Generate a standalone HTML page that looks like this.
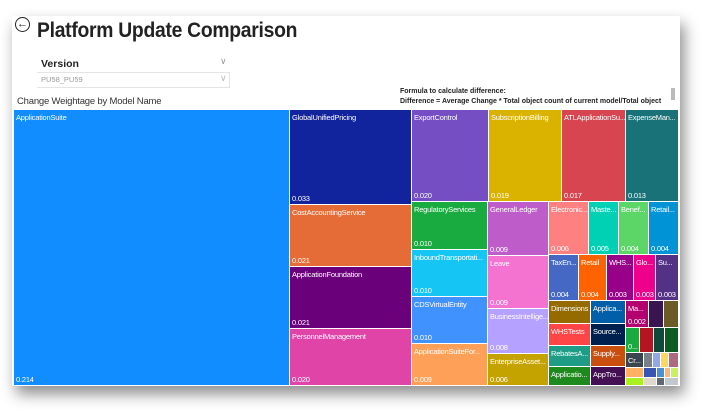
<!DOCTYPE html><html><head><style>
body{margin:0;width:710px;height:417px;background:#fff;position:relative;overflow:hidden;font-family:"Liberation Sans",sans-serif}
.card{position:absolute;left:12px;top:16px;width:668px;height:370px;background:#fff;box-shadow:4px 8px 14px rgba(0,0,0,.45)}
.t{position:absolute;box-sizing:border-box;border:1px solid #fff;color:#fff;font-size:7.5px;overflow:hidden;white-space:nowrap;letter-spacing:-.2px}
.t .n{position:absolute;left:2px;top:3px}
.t .v{position:absolute;left:2px;bottom:1px}
.a{position:absolute}
</style></head><body>
<div class="card"></div>
<div class="a" style="left:15px;top:17px;width:13px;height:13px;border:1.5px solid #222;border-radius:50%;font-size:11px;line-height:12px;text-align:center;color:#222">&#8592;</div>
<div class="a" style="left:37px;top:19px;font-size:21px;font-weight:bold;color:#222;letter-spacing:-.3px;transform:scaleX(0.92);transform-origin:left top">Platform Update Comparison</div>
<div class="a" style="left:41px;top:58px;font-size:10.5px;font-weight:bold;color:#222">Version</div>
<div class="a" style="left:220px;top:56px;font-size:9px;color:#999">&#8744;</div>
<div class="a" style="left:37px;top:72px;width:192px;height:14px;border:1px solid #e4e4e4;border-left:none"></div>
<div class="a" style="left:41px;top:75px;font-size:7.5px;color:#999">PU58_PU59</div>
<div class="a" style="left:220px;top:73px;font-size:9px;color:#bbb">&#8744;</div>
<div class="a" style="left:17px;top:96px;font-size:9.5px;color:#333;letter-spacing:-.2px">Change Weightage by Model Name</div>
<div class="a" style="left:400px;top:88px;font-size:7px;font-weight:bold;color:#222">Formula to calculate difference:</div>
<div class="a" style="left:400px;top:98px;font-size:7px;font-weight:bold;color:#222">Difference = Average Change * Total object count of current model/Total object</div>
<div class="a" style="left:671px;top:88px;width:4px;height:12px;background:#bbb"></div>

<div class="t" style="left:13px;top:109px;width:277px;height:277px;background:#118DFF"><span class="n">ApplicationSuite</span><span class="v">0.214</span></div>
<div class="t" style="left:289px;top:109px;width:123px;height:96px;background:#12239E"><span class="n">GlobalUnifiedPricing</span><span class="v">0.033</span></div>
<div class="t" style="left:289px;top:204px;width:123px;height:63px;background:#E66C37"><span class="n">CostAccountingService</span><span class="v">0.021</span></div>
<div class="t" style="left:289px;top:266px;width:123px;height:63px;background:#6B007B"><span class="n">ApplicationFoundation</span><span class="v">0.021</span></div>
<div class="t" style="left:289px;top:328px;width:123px;height:58px;background:#E044A7"><span class="n">PersonnelManagement</span><span class="v">0.020</span></div>
<div class="t" style="left:411px;top:109px;width:78px;height:93px;background:#744EC2"><span class="n">ExportControl</span><span class="v">0.020</span></div>
<div class="t" style="left:488px;top:109px;width:74px;height:93px;background:#D9B300"><span class="n">SubscriptionBilling</span><span class="v">0.019</span></div>
<div class="t" style="left:561px;top:109px;width:65px;height:93px;background:#D64550"><span class="n">ATLApplicationSu...</span><span class="v">0.017</span></div>
<div class="t" style="left:625px;top:109px;width:54px;height:93px;background:#197278"><span class="n">ExpenseMan...</span><span class="v">0.013</span></div>
<div class="t" style="left:411px;top:201px;width:77px;height:49px;background:#1AAB40"><span class="n">RegulatoryServices</span><span class="v">0.010</span></div>
<div class="t" style="left:411px;top:249px;width:77px;height:48px;background:#15C6F4"><span class="n">InboundTransportati...</span><span class="v">0.010</span></div>
<div class="t" style="left:411px;top:296px;width:77px;height:48px;background:#4092FF"><span class="n">CDSVirtualEntity</span><span class="v">0.010</span></div>
<div class="t" style="left:411px;top:343px;width:77px;height:43px;background:#FFA058"><span class="n">ApplicationSuiteFor...</span><span class="v">0.009</span></div>
<div class="t" style="left:487px;top:201px;width:62px;height:55px;background:#BE5DC9"><span class="n">GeneralLedger</span><span class="v">0.009</span></div>
<div class="t" style="left:487px;top:255px;width:62px;height:54px;background:#F472D0"><span class="n">Leave</span><span class="v">0.009</span></div>
<div class="t" style="left:487px;top:308px;width:62px;height:46px;background:#B5A1FF"><span class="n">BusinessIntellige...</span><span class="v">0.008</span></div>
<div class="t" style="left:487px;top:353px;width:62px;height:33px;background:#C4A200"><span class="n">EnterpriseAsset...</span><span class="v">0.006</span></div>
<div class="t" style="left:548px;top:201px;width:41px;height:54px;background:#FF8080"><span class="n">Electronic...</span><span class="v">0.006</span></div>
<div class="t" style="left:588px;top:201px;width:31px;height:54px;background:#00D1B5"><span class="n">Maste...</span><span class="v">0.005</span></div>
<div class="t" style="left:618px;top:201px;width:31px;height:54px;background:#5BD667"><span class="n">Benef...</span><span class="v">0.004</span></div>
<div class="t" style="left:648px;top:201px;width:31px;height:54px;background:#0093D5"><span class="n">Retail...</span><span class="v">0.004</span></div>
<div class="t" style="left:548px;top:254px;width:31px;height:47px;background:#4668C5"><span class="n">TaxEn...</span><span class="v">0.004</span></div>
<div class="t" style="left:578px;top:254px;width:29px;height:47px;background:#FF6300"><span class="n">Retail</span><span class="v">0.004</span></div>
<div class="t" style="left:606px;top:254px;width:28px;height:47px;background:#99008A"><span class="n">WHS...</span><span class="v">0.003</span></div>
<div class="t" style="left:633px;top:254px;width:23px;height:47px;background:#EC008C"><span class="n">Glo...</span><span class="v">0.003</span></div>
<div class="t" style="left:655px;top:254px;width:24px;height:47px;background:#533285"><span class="n">Su...</span><span class="v">0.003</span></div>
<div class="t" style="left:548px;top:300px;width:43px;height:24px;background:#956B00"><span class="n">Dimensions</span></div>
<div class="t" style="left:590px;top:300px;width:36px;height:24px;background:#005FA8"><span class="n">Applica...</span></div>
<div class="t" style="left:548px;top:323px;width:43px;height:23px;background:#FF4545"><span class="n">WHSTests</span></div>
<div class="t" style="left:590px;top:323px;width:36px;height:23px;background:#002050"><span class="n">Source...</span></div>
<div class="t" style="left:548px;top:345px;width:43px;height:22px;background:#1E9C86"><span class="n">RebatesA...</span></div>
<div class="t" style="left:590px;top:345px;width:36px;height:22px;background:#C94F0F"><span class="n">Supply...</span></div>
<div class="t" style="left:548px;top:366px;width:43px;height:20px;background:#1E8A1E"><span class="n">Applicatio...</span></div>
<div class="t" style="left:590px;top:366px;width:36px;height:20px;background:#450F54"><span class="n">AppTro...</span></div>
<div class="t" style="left:625px;top:300px;width:24px;height:28px;background:#B3006E"><span class="n">Ma...</span><span class="v">0.002</span></div>
<div class="t" style="left:648px;top:300px;width:16px;height:28px;background:#3B1550"></div>
<div class="t" style="left:663px;top:300px;width:16px;height:28px;background:#6B5B26"></div>
<div class="t" style="left:625px;top:327px;width:15px;height:26px;background:#1AAB40"><span class="v">0...</span></div>
<div class="t" style="left:639px;top:327px;width:15px;height:26px;background:#B51520"></div>
<div class="t" style="left:653px;top:327px;width:12px;height:26px;background:#0D4A3A"></div>
<div class="t" style="left:664px;top:327px;width:15px;height:26px;background:#0B5C22"></div>
<div class="t" style="left:625px;top:352px;width:19px;height:16px;background:#3A4550"><span class="n">Cr...</span></div>
<div class="t" style="left:643px;top:352px;width:10px;height:16px;background:#7A8088"></div>
<div class="t" style="left:652px;top:352px;width:9px;height:16px;background:#90A8E8"></div>
<div class="t" style="left:660px;top:352px;width:9px;height:16px;background:#FFD75A"></div>
<div class="t" style="left:668px;top:352px;width:11px;height:16px;background:#B06A80"></div>
<div class="t" style="left:625px;top:367px;width:19px;height:11px;background:#FFB060"></div>
<div class="t" style="left:643px;top:367px;width:14px;height:11px;background:#3855B5"></div>
<div class="t" style="left:656px;top:367px;width:9px;height:11px;background:#4A90D0"></div>
<div class="t" style="left:664px;top:367px;width:7px;height:11px;background:#F5B880"></div>
<div class="t" style="left:670px;top:367px;width:9px;height:11px;background:#C8F060"></div>
<div class="t" style="left:625px;top:377px;width:19px;height:9px;background:#A8F020"></div>
<div class="t" style="left:643px;top:377px;width:14px;height:9px;background:#E0D8C8"></div>
<div class="t" style="left:656px;top:377px;width:9px;height:9px;background:#606870"></div>
<div class="t" style="left:664px;top:377px;width:15px;height:9px;background:#C0C8D0"></div>
</body></html>
